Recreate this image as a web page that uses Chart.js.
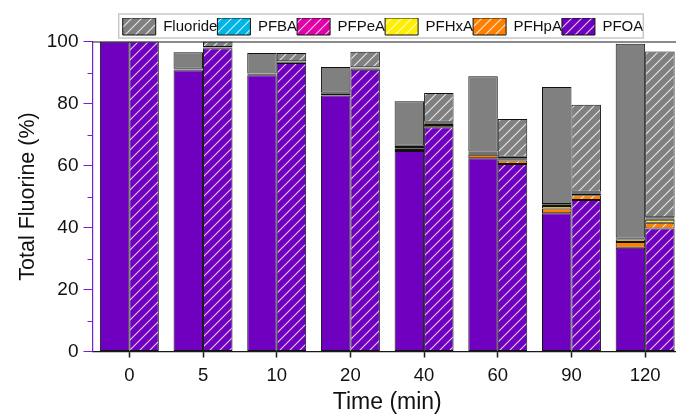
<!DOCTYPE html>
<html>
<head>
<meta charset="utf-8">
<script src="https://cdn.jsdelivr.net/npm/chart.js@4/dist/chart.umd.min.js"></script>
<style>
  html, body { margin: 0; padding: 0; background: #ffffff; overflow: hidden; }
  #wrap { width: 676px; height: 416px; overflow: hidden; position: relative; }
  canvas { display: block; }
</style>
</head>
<body>
<div id="wrap"><canvas id="c" width="682" height="416"></canvas></div>
<script>
// ---- data (percent of total fluorine) ----
const categories = ['0', '5', '10', '20', '40', '60', '90', '120'];
const yTicks = [0, 20, 40, 60, 80, 100];

// solid bars (first bar of each pair)
const pfoaA     = [100, 90.7, 89.1, 82.6, 64.7, 62.3, 44.6, 33.5];
const pfhpaA    = [0, 0.2, 0.3, 0.5, 0.6, 1.2, 1.5, 1.8];
const pfhxaA    = [0, 0.1, 0.1, 0.2, 0.3, 0.3, 0.8, 0.8];
const pfpeaA    = [0, 0.1, 0.1, 0.1, 0.4, 0.5, 0.4, 0.3];
const pfbaA     = [0, 0.1, 0.1, 0.1, 0.4, 0.2, 0.3, 0.4];
const fluorideA = [0, 5.3, 6.6, 8.3, 14.3, 24.3, 37.7, 62.5];

// hatched bars (second bar of each pair)
const pfoaB     = [100, 97.8, 93.1, 90.9, 72.3, 60.5, 48.9, 39.7];
const pfhpaB    = [0, 0.1, 0.2, 0.4, 0.8, 1.1, 1.5, 1.8];
const pfhxaB    = [0, 0.1, 0.1, 0.2, 0.4, 0.4, 0.5, 1.0];
const pfpeaB    = [0, 0.1, 0.1, 0.1, 0.3, 0.3, 0.3, 0.4];
const pfbaB     = [0, 0.1, 0.1, 0.1, 0.3, 0.5, 0.3, 0.4];
const fluorideB = [0, 1.8, 2.7, 5.0, 9.3, 12.2, 28.1, 53.5];

const species = ['PFOA', 'PFHpA', 'PFHxA', 'PFPeA', 'PFBA', 'Fluoride'];
const colors  = ['#7000C0', '#FF8000', '#FFEE00', '#E000A8', '#00B4E4', '#808080'];
const seriesA = [pfoaA, pfhpaA, pfhxaA, pfpeaA, pfbaA, fluorideA];
const seriesB = [pfoaB, pfhpaB, pfhxaB, pfpeaB, pfbaB, fluorideB];

// ---- hatch pattern ----
function hatch(color) {
  const s = 10;
  const c = document.createElement('canvas');
  c.width = s; c.height = s;
  const g = c.getContext('2d');
  g.fillStyle = color;
  g.fillRect(0, 0, s, s);
  g.strokeStyle = 'rgba(255,255,255,0.8)';
  g.lineWidth = 1.1;
  g.beginPath();
  g.moveTo(-1, s + 1); g.lineTo(s + 1, -1);
  g.moveTo(-1, 1); g.lineTo(1, -1);
  g.moveTo(s - 1, s + 1); g.lineTo(s + 1, s - 1);
  g.stroke();
  return g.createPattern(c, 'repeat');
}

const datasets = [];
species.forEach((name, i) => {
  datasets.push({
    label: name, data: seriesA[i], stack: 'a',
    backgroundColor: colors[i], borderColor: '#111111', borderWidth: 1, borderSkipped: false
  });
});
species.forEach((name, i) => {
  datasets.push({
    label: name, data: seriesB[i], stack: 'b',
    backgroundColor: hatch(colors[i]), borderColor: '#111111', borderWidth: 1, borderSkipped: false
  });
});

const PURPLE_AXIS = '#7a1fd0';
const FONT = 'Liberation Sans, Arial, sans-serif';

const extras = {
  id: 'extras',
  afterLayout(chart) {
    const lg = chart.legend;
    const dx = 42, dy = 3.5;
    lg.left += dx; lg.right += dx; lg.top += dy; lg.bottom += dy;
  },
  afterDraw(chart) {
    const ctx = chart.ctx;
    const ca = chart.chartArea;
    const y = chart.scales.y;
    ctx.save();
    // top frame line
    ctx.strokeStyle = '#1a1a1a';
    ctx.lineWidth = 1.2;
    ctx.beginPath();
    ctx.moveTo(ca.left, ca.top + 0.5);
    ctx.lineTo(ca.right, ca.top + 0.5);
    ctx.stroke();
    // minor y ticks
    ctx.strokeStyle = PURPLE_AXIS;
    ctx.lineWidth = 1;
    [10, 30, 50, 70, 90].forEach(v => {
      const py = Math.round(y.getPixelForValue(v)) + 0.5;
      ctx.beginPath();
      ctx.moveTo(y.right - 5, py);
      ctx.lineTo(y.right, py);
      ctx.stroke();
    });
    // legend frame
    const hb = chart.legend.legendHitBoxes;
    if (hb && hb.length) {
      let l = Infinity, r = -Infinity, t = Infinity, b = -Infinity;
      hb.forEach(h => {
        l = Math.min(l, h.left); r = Math.max(r, h.left + h.width);
        t = Math.min(t, h.top); b = Math.max(b, h.top + h.height);
      });
      ctx.strokeStyle = '#c8c8c8';
      ctx.lineWidth = 1.5;
      ctx.strokeRect(l - 4, t - 4, (r - l) + 4, (b - t) + 7);
    }
    ctx.restore();
  }
};

new Chart(document.getElementById('c'), {
  type: 'bar',
  data: { labels: categories, datasets },
  options: {
    responsive: false,
    animation: false,
    devicePixelRatio: 1,
    layout: { padding: { top: 14.5, left: 0, right: 0, bottom: 0 } },
    datasets: { bar: { categoryPercentage: 0.8, barPercentage: 1.0 } },
    plugins: {
      tooltip: { enabled: false },
      legend: {
        position: 'top',
        reverse: true,
        labels: {
          boxWidth: 33, boxHeight: 17, padding: 0,
          color: '#111',
          font: { family: FONT, size: 15 },
          filter: (item, data) => data.datasets[item.datasetIndex].stack === 'b'
        }
      }
    },
    scales: {
      x: {
        stacked: true,
        offset: true,
        grid: { offset: false, drawOnChartArea: false, drawTicks: true, tickLength: 6, color: '#1a1a1a', tickColor: '#1a1a1a', tickWidth: 1.5 },
        border: { color: '#1a1a1a', width: 1.2 },
        ticks: { color: '#111', padding: 7, maxRotation: 0, font: { family: FONT, size: 18.5 } },
        title: { display: true, text: 'Time (min)', color: '#111', padding: { top: 0, bottom: 0 }, font: { family: FONT, size: 23 } },
        afterFit(s) { s.height = 64.5; }
      },
      y: {
        stacked: true,
        min: 0, max: 100,
        afterBuildTicks(s) { s.ticks = yTicks.map(v => ({ value: v })); },
        grid: { drawOnChartArea: false, drawTicks: true, tickLength: 9, tickColor: PURPLE_AXIS, tickWidth: 1 },
        border: { color: PURPLE_AXIS, width: 1.2 },
        ticks: { color: '#111', padding: 5, font: { family: FONT, size: 19 } },
        title: { display: true, text: 'Total Fluorine (%)', color: '#111', padding: { top: 15, bottom: 0 }, font: { family: FONT, size: 21.5 } },
        afterFit(s) { s.width = 92.5; }
      }
    }
  },
  plugins: [extras]
});
</script>
</body>
</html>
